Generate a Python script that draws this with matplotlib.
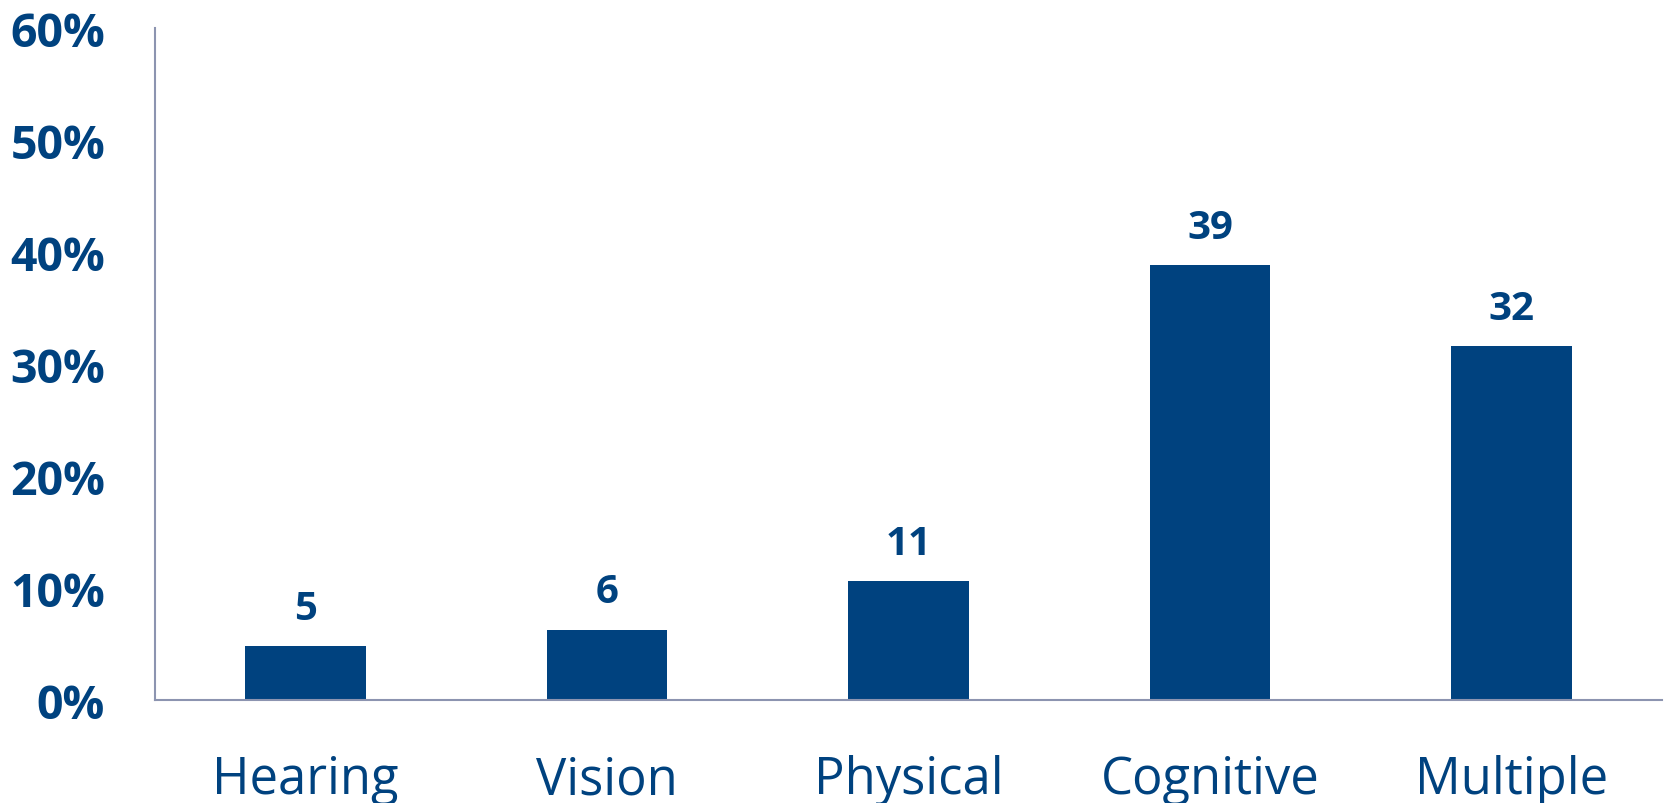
import matplotlib
matplotlib.use("Agg")
import matplotlib.pyplot as plt
from matplotlib.ticker import PercentFormatter

categories = ["Hearing", "Vision", "Physical", "Cognitive", "Multiple"]
shares = [4.8, 6.3, 10.6, 38.8, 31.6]
y_ticks = [0, 10, 20, 30, 40, 50, 60]

navy = "#00427F"
axis_grey = "#8C94B0"

fig = plt.figure(figsize=(16.67, 8.04), dpi=100)
ax = fig.add_axes([0.093, 0.128, 0.904, 0.836])

bars = ax.bar(range(len(categories)), shares, width=0.40, color=navy)

ax.set_xlim(-0.5, len(categories) - 0.5)
ax.set_ylim(0, 60)
ax.set_yticks(y_ticks)
ax.yaxis.set_major_formatter(PercentFormatter(decimals=0))
ax.set_xticks(range(len(categories)))
ax.set_xticklabels(categories)

for side in ["top", "right"]:
    ax.spines[side].set_visible(False)
for side in ["left", "bottom"]:
    ax.spines[side].set_color(axis_grey)
    ax.spines[side].set_linewidth(1.5)

ax.tick_params(axis="both", length=0)
ax.tick_params(axis="y", pad=36)
ax.tick_params(axis="x", pad=39)
for lbl in ax.get_yticklabels():
    lbl.set_fontfamily("Open Sans")
    lbl.set_fontweight("bold")
    lbl.set_fontsize(33.5)
    lbl.set_color(navy)
for lbl in ax.get_xticklabels():
    lbl.set_fontfamily("Open Sans")
    lbl.set_fontsize(36.5)
    lbl.set_color(navy)

# value label above each bar
for rect, v in zip(bars, shares):
    ax.annotate("{:.0f}".format(v),
                (rect.get_x() + rect.get_width() / 2, rect.get_height()),
                xytext=(0, 13), textcoords="offset points",
                ha="center", va="bottom",
                fontfamily="Open Sans", fontweight="bold",
                fontsize=29, color=navy)

fig.savefig("out.png", dpi=100)
